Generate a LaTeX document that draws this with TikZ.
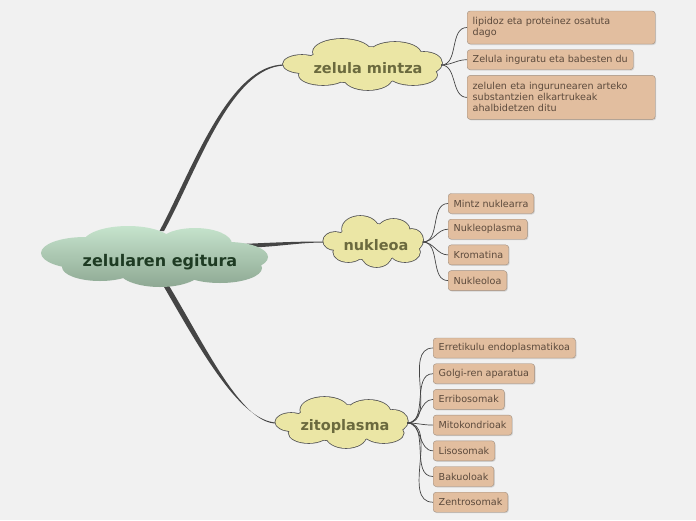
\documentclass[tikz,border=0pt]{standalone}
\usepackage{fontspec}
\setmainfont{DejaVu Sans}
\usetikzlibrary{positioning,shadows,calc,backgrounds}

\definecolor{bgCol}{HTML}{F1F1F1}
\definecolor{rootTop}{HTML}{C6E4CD}
\definecolor{rootBot}{HTML}{8EA893}
\definecolor{rootText}{HTML}{1E3B23}
\definecolor{topicFill}{HTML}{EBE6A5}
\definecolor{topicLine}{HTML}{555555}
\definecolor{topicText}{HTML}{6B6A3E}
\definecolor{leafFill}{HTML}{E2BE9F}
\definecolor{leafLine}{HTML}{A08F80}
\definecolor{leafText}{HTML}{5C4A3C}
\definecolor{branchCol}{HTML}{454545}

% puffs of the clouds, around their centre
\newcommand{\rootpuffs}{%
  (-70,-3) ellipse [x radius=44, y radius=16]
  (-27,-13) ellipse [x radius=45, y radius=17]
  (40,-12) ellipse [x radius=37, y radius=16]
  (73,1) ellipse [x radius=40, y radius=15]
  (-55,11) ellipse [x radius=38, y radius=14]
  (5,14) ellipse [x radius=42, y radius=17]
  (65,12) ellipse [x radius=42, y radius=15]
  (0,0) ellipse [x radius=85, y radius=20]}
\newcommand{\topicpuffs}{%
  (-21,-13) ellipse [x radius=29, y radius=13]
  (32,-11) ellipse [x radius=26, y radius=12]
  (-61,-1) ellipse [x radius=19, y radius=9]
  (61,-2) ellipse [x radius=18, y radius=11]
  (-40,10) ellipse [x radius=24, y radius=10]
  (5,13) ellipse [x radius=24, y radius=12]
  (50,10) ellipse [x radius=24, y radius=10]
  (0,0) ellipse [x radius=60, y radius=18]}

\begin{document}
\begin{tikzpicture}[
  x=1pt, y=-1pt,
  node distance=5.3pt,
  root/.style={minimum width=227pt, minimum height=61pt, inner sep=0pt,
               font=\fontsize{16}{19}\selectfont\bfseries, text=rootText},
  topic/.style={minimum width=156pt, minimum height=50pt, inner sep=0pt,
                font=\fontsize{14.5}{17}\selectfont\bfseries, text=topicText},
  leaf/.style={draw=leafLine, fill=leafFill, rounded corners=3pt, text=leafText,
               font=\fontsize{9.6}{11}\selectfont, align=left, inner xsep=5.5pt,
               minimum height=20pt,
               drop shadow={shadow xshift=1pt, shadow yshift=-1pt, opacity=0.25}},
  puff/.style={draw=topicLine, line width=1.6pt, fill=topicFill},
  branch/.style={fill=branchCol},
  twig/.style={draw=branchCol, line width=0.7pt}
]
\node[root] (root) at (160,262) {zelularen egitura};
\node[topic] (mintza) at (368,68) {zelula mintza};
\node[topic, minimum width=98pt] (nukleoa) at (376,245) {nukleoa};
\node[topic, minimum width=130pt] (zito) at (345,426.5) {zitoplasma};

% cloud ends, where the connectors meet
\coordinate (mintzaW) at ($(mintza.west)+(-5,-3)$);
\coordinate (mintzaE) at ($(mintza.east)+(-5,-3)$);
\coordinate (nukleoaW) at ($(nukleoa.west)+(-2.5,-3)$);
\coordinate (nukleoaE) at ($(nukleoa.east)+(-2.5,-3)$);
\coordinate (zitoW) at ($(zito.west)+(-3,-3.5)$);
\coordinate (zitoE) at ($(zito.east)+(-3,-3.5)$);

% zelula mintza
\node[leaf, anchor=west, text width=177pt, minimum height=33pt] (m1) at (467,27.5) {lipidoz eta proteinez osatuta\\dago};
\node[leaf, below=of m1.south west, anchor=north west] (m2) {Zelula inguratu eta babesten du};
\node[leaf, below=of m2.south west, anchor=north west, text width=177pt, minimum height=44pt] (m3) {zelulen eta ingurunearen arteko\\substantzien elkartrukeak\\ahalbidetzen ditu};

% nukleoa
\node[leaf, anchor=west] (n1) at (448,203.5) {Mintz nuklearra};
\node[leaf, below=of n1.south west, anchor=north west] (n2) {Nukleoplasma};
\node[leaf, below=of n2.south west, anchor=north west] (n3) {Kromatina};
\node[leaf, below=of n3.south west, anchor=north west] (n4) {Nukleoloa};

% zitoplasma
\node[leaf, anchor=west] (z1) at (433,348) {Erretikulu endoplasmatikoa};
\node[leaf, below=of z1.south west, anchor=north west] (z2) {Golgi-ren aparatua};
\node[leaf, below=of z2.south west, anchor=north west] (z3) {Erribosomak};
\node[leaf, below=of z3.south west, anchor=north west] (z4) {Mitokondrioak};
\node[leaf, below=of z4.south west, anchor=north west] (z5) {Lisosomak};
\node[leaf, below=of z5.south west, anchor=north west] (z6) {Bakuoloak};
\node[leaf, below=of z6.south west, anchor=north west] (z7) {Zentrosomak};

\begin{scope}[on background layer]
  \fill[bgCol] (0,0) rectangle (696,520);
  % tapered branches
  \fill[branch] ($(root)+(-0.5,-31)$) .. controls +(33,-62) and +(-56,-0.5) .. ($(mintzaW)+(0,-0.5)$)
    -- ($(mintzaW)+(0,0.5)$) .. controls +(-54,1) and +(33,-60) .. ($(root)+(4,-31)$) -- cycle;
  \fill[branch] ($(root)+(70,-17.5)$) .. controls +(45,-2) and +(-30,0) .. ($(nukleoaW)+(0,-0.5)$)
    -- ($(nukleoaW)+(0,0.5)$) .. controls +(-30,0) and +(45,0) .. ($(root)+(70,-14)$) -- cycle;
  \fill[branch] ($(root)+(0,18)$) .. controls +(36,62) and +(-38,-0.5) .. ($(zitoW)+(0,-0.5)$)
    -- ($(zitoW)+(0,0.5)$) .. controls +(-36,1) and +(37,60) .. ($(root)+(5.5,18)$) -- cycle;
  % clouds
  \shade[top color=rootTop, bottom color=rootBot, shift={(root.center)}, shift={(-5,-6)}] \rootpuffs;
  \path[puff, shift={(mintza.center)}, shift={(-5,-3)}] \topicpuffs;
  \fill[topicFill, shift={(mintza.center)}, shift={(-5,-3)}] \topicpuffs;
  \path[puff, shift={(nukleoa.center)}, shift={(-2.5,-3)}, xscale=0.628] \topicpuffs;
  \fill[topicFill, shift={(nukleoa.center)}, shift={(-2.5,-3)}, xscale=0.628] \topicpuffs;
  \path[puff, shift={(zito.center)}, shift={(-3,-3.5)}, xscale=0.833] \topicpuffs;
  \fill[topicFill, shift={(zito.center)}, shift={(-3,-3.5)}, xscale=0.833] \topicpuffs;
\end{scope}

\foreach \l in {m1,m2,m3} \draw[twig] (mintzaE) to[out=0, in=180] (\l.west);
\foreach \l in {n1,n2,n3,n4} \draw[twig] (nukleoaE) to[out=0, in=180] (\l.west);
\foreach \l in {z1,z2,z3,z4,z5,z6,z7} \draw[twig] (zitoE) to[out=0, in=180] (\l.west);
\end{tikzpicture}
\end{document}
